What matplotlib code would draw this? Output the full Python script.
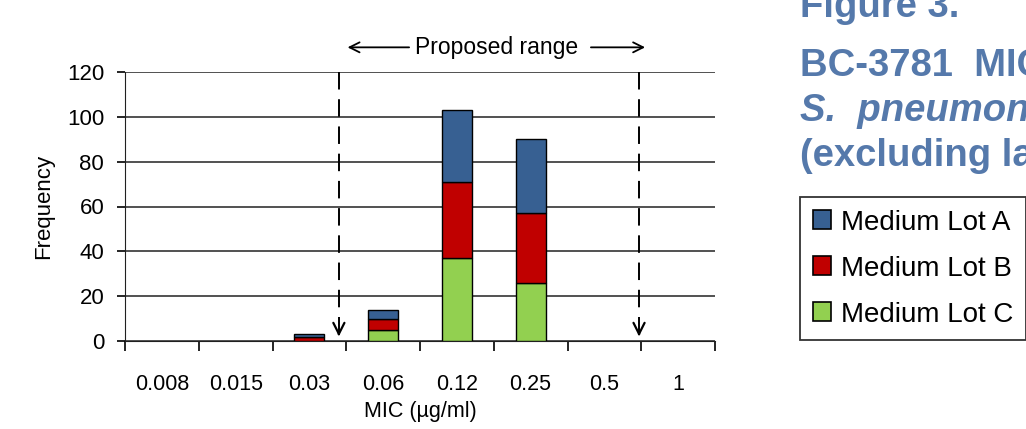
import numpy as np
import matplotlib
matplotlib.use("Agg")
import matplotlib.pyplot as plt
from matplotlib.patches import Patch

plt.rcParams['font.family'] = ['Liberation Sans', 'DejaVu Sans']

# data
mic_labels = ["0.008", "0.015", "0.03", "0.06", "0.12", "0.25", "0.5", "1"]
lot_c = [0, 0, 0, 5, 37, 26, 0, 0]
lot_b = [0, 0, 2, 5, 34, 31, 0, 0]
lot_a = [0, 0, 1, 4, 32, 33, 0, 0]
range_lo = 2.4    # dashed line positions (category units)
range_hi = 6.47

col_a = "#376092"
col_b = "#C00000"
col_c = "#92D050"
title_col = "#5579AB"

fig = plt.figure(figsize=(10.26, 4.29), dpi=100)
ax = fig.add_axes([125/1026, 1-341/429, 590/1026, 269/429])

x = np.arange(len(mic_labels))
c = np.array(lot_c)
b = np.array(lot_b)
a = np.array(lot_a)
w = 0.41
bottom = np.zeros(len(x))
for vals, col in [(c, col_c), (b, col_b), (a, col_a)]:
    m = vals > 0
    ax.bar(x[m], vals[m], w, bottom=bottom[m], color=col, edgecolor="black",
           linewidth=1, zorder=3)
    bottom = bottom + vals

ax.set_xlim(-0.5, len(mic_labels)-0.5)
ax.set_ylim(0, 120)
ax.set_yticks(range(0, 121, 20))
ax.yaxis.grid(True, color="#333333", linewidth=1.2)
ax.set_axisbelow(True)
for s in ["top", "right"]:
    ax.spines[s].set_visible(False)
ax.spines["left"].set_color("#202020")
ax.spines["bottom"].set_color("#202020")

ax.set_xticks(x)
ax.set_xticklabels(mic_labels, fontsize=15.5)
ax.set_xticks(np.arange(-0.5, len(mic_labels), 1), minor=True)
ax.tick_params(axis="x", which="major", length=0, pad=24)
ax.tick_params(axis="x", which="minor", length=7, width=1.2, direction="out")
ax.tick_params(axis="y", length=6, width=1.2, direction="out", labelsize=16, pad=9)

ax.set_xlabel("MIC (\u00b5g/ml)", fontsize=15.5, labelpad=4)
ax.set_ylabel("Frequency", fontsize=16, labelpad=9)

# proposed range markers
for xr in [range_lo, range_hi]:
    ax.plot([xr, xr], [120, 3], color="black", linewidth=1.4,
            dashes=(9, 5), zorder=4)
    ax.annotate("", xy=(xr, 0.8), xytext=(xr, 5),
                arrowprops=dict(arrowstyle="->", color="black", lw=1.6,
                                mutation_scale=20), zorder=4)

ytop = 131
ax.text(4.54, ytop, "Proposed range", ha="center",
        va="center", fontsize=16.5, clip_on=False)
ax.annotate("", xy=(range_lo+0.08, ytop), xytext=(3.39, ytop),
            arrowprops=dict(arrowstyle="->", color="black", lw=1.3,
                            mutation_scale=18), annotation_clip=False)
ax.annotate("", xy=(range_hi+0.12, ytop), xytext=(5.78, ytop),
            arrowprops=dict(arrowstyle="->", color="black", lw=1.3,
                            mutation_scale=18), annotation_clip=False)

# title block on the right (cut off by the page edge)
tx = 800/1026
fig.text(tx, 1-17/429, "Figure 3.", color=title_col, fontsize=27.5,
         fontweight="bold", va="baseline")
fig.text(tx, 1-76/429, "BC-3781  MIC", color=title_col, fontsize=27.5,
         fontweight="bold", va="baseline")
fig.text(tx, 1-121/429, "S.  pneumoniae", color=title_col, fontsize=27.5,
         fontweight="bold", fontstyle="italic", va="baseline")
fig.text(tx, 1-166/429, "(excluding lab", color=title_col, fontsize=27.5,
         fontweight="bold", va="baseline")

handles = [Patch(facecolor=col_a, edgecolor="black", linewidth=1.2, label="Medium Lot A"),
           Patch(facecolor=col_b, edgecolor="black", linewidth=1.2, label="Medium Lot B"),
           Patch(facecolor=col_c, edgecolor="black", linewidth=1.2, label="Medium Lot C")]
leg = fig.legend(handles=handles, loc="upper left",
                 bbox_to_anchor=(800/1026, 1-197/429), fontsize=20,
                 frameon=True, fancybox=False, edgecolor="black",
                 handlelength=0.68, handleheight=0.68, handletextpad=0.35,
                 labelspacing=0.72, borderpad=0.45, borderaxespad=0)
leg.get_frame().set_linewidth(1.3)

fig.savefig("out.png", dpi=100)
